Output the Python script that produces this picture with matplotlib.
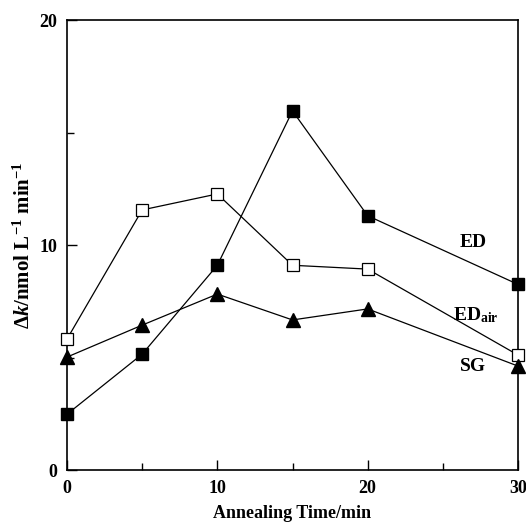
import matplotlib.pyplot as plt
from matplotlib.ticker import MultipleLocator

plt.rcParams['font.family'] = ['Liberation Serif', 'DejaVu Serif']
plt.rcParams['mathtext.fontset'] = 'custom'
plt.rcParams['mathtext.rm'] = 'Liberation Serif:bold'
plt.rcParams['mathtext.it'] = 'Liberation Serif:bold:italic'
plt.rcParams['mathtext.bf'] = 'Liberation Serif:bold'

# annealing time (min)
time = [0, 5, 10, 15, 20, 30]

# rate change for each sample
ed = [2.48, 5.15, 9.1, 15.96, 11.3, 8.25]
ed_air = [5.82, 11.56, 12.27, 9.1, 8.93, 5.11]
sg = [5.02, 6.44, 7.82, 6.67, 7.16, 4.62]

fig = plt.figure(figsize=(5.26, 5.24), dpi=100)
ax = fig.add_axes([0.1274, 0.103, 0.8574, 0.8588])

ax.plot(time, ed, color='black', linewidth=0.9, marker='s', markersize=9,
        markerfacecolor='black', markeredgecolor='black', clip_on=False, zorder=3)
ax.plot(time, ed_air, color='black', linewidth=0.9, marker='s', markersize=9,
        markerfacecolor='white', markeredgecolor='black', markeredgewidth=0.9,
        clip_on=False, zorder=3)
ax.plot(time, sg, color='black', linewidth=0.9, marker='^', markersize=10,
        markerfacecolor='black', markeredgecolor='black', clip_on=False, zorder=3)

ax.text(27.0, 10.1, 'ED', fontsize=14, fontweight='bold', ha='center', va='center')
ax.text(27.2, 6.9, r'$\mathrm{ED}_{\mathrm{air}}$', fontsize=14, ha='center', va='center')
ax.text(27.0, 4.6, 'SG', fontsize=14, fontweight='bold', ha='center', va='center')

ax.set_xlim(0, 30)
ax.set_ylim(0, 20)
ax.xaxis.set_major_locator(MultipleLocator(10))
ax.xaxis.set_minor_locator(MultipleLocator(5))
ax.yaxis.set_major_locator(MultipleLocator(10))
ax.yaxis.set_minor_locator(MultipleLocator(5))
ax.tick_params(which='major', direction='in', length=7, width=1, labelsize=13,
               top=False, right=False)
ax.tick_params(which='minor', direction='in', length=5, width=1,
               top=False, right=False)
ax.tick_params(axis='x', pad=7)
ax.tick_params(axis='y', pad=7)
for lab in ax.get_xticklabels() + ax.get_yticklabels():
    lab.set_fontweight('bold')
for sp in ax.spines.values():
    sp.set_linewidth(1.2)

ax.set_xlabel('Annealing Time/min', fontsize=13, fontweight='bold', labelpad=6)
ax.set_ylabel(r'$\Delta k\mathrm{/nmol\ L^{-1}\ min^{-1}}$', fontsize=15, labelpad=3)

fig.savefig('out.png', dpi=100)
